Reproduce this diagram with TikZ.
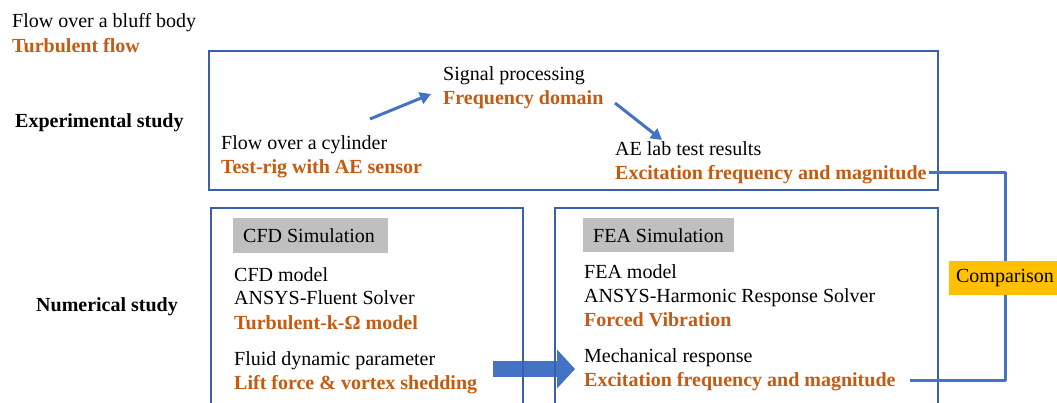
\documentclass[tikz,border=0pt]{standalone}
\usepackage{fontspec}
\setmainfont{Liberation Serif}
\usetikzlibrary{arrows.meta}
\definecolor{orng}{HTML}{C55A11}
\definecolor{lblue}{HTML}{4472C4}
\definecolor{dblue}{HTML}{3A5FAE}
\definecolor{gry}{HTML}{BFBFBF}
\definecolor{ylw}{HTML}{FFC000}
\tikzset{
  txt/.style={anchor=base west, inner sep=0pt, font=\fontsize{20}{24}\selectfont},
  otxt/.style={txt, text=orng, font=\fontsize{20}{24}\selectfont\bfseries},
  btxt/.style={txt, font=\fontsize{20}{24}\selectfont\bfseries},
  frame/.style={draw=dblue, line width=1.8pt, anchor=north west, inner sep=0pt},
  tag/.style={fill=gry, anchor=north west, inner sep=0pt},
  flow/.style={draw=lblue, line width=3pt, -{Triangle[width=12pt,length=11pt]}},
  link/.style={draw=lblue, line width=3pt},
  big/.style={draw=lblue, line width=16pt, -{Triangle[width=38pt,length=18pt]}},
}
\begin{document}
\begin{tikzpicture}[x=1pt,y=-1pt]
\useasboundingbox (0,0) rectangle (1057,403);
% left labels
\node[txt] (bluff) at (12,28) {Flow over a bluff body};
\node[otxt] (turb) at (12,52.5) {Turbulent flow};
\node[btxt] (exp) at (15,128) {Experimental study};
\node[btxt] (num) at (36,311) {Numerical study};
% big arrow (under the frames)
\coordinate (ba1) at (493,369);
\coordinate (ba2) at (575,369);
\draw[big] (ba1) -- (ba2);
% frames
\node[frame, minimum width=729pt, minimum height=139pt] (topbox) at (208,50) {};
\node[frame, minimum width=312pt, minimum height=220pt] (cfdbox) at (210,207) {};
\node[frame, minimum width=383pt, minimum height=220pt] (feabox) at (554,207) {};
% experimental texts
\node[txt] (cyl) at (221,150) {Flow over a cylinder};
\node[otxt] (rig) at (221,174) {Test-rig with AE sensor};
\node[txt] (sig) at (443,80.7) {Signal processing};
\node[otxt] (freq) at (443,105) {Frequency domain};
\node[txt] (ae) at (615,155.7) {AE lab test results};
\node[otxt] (topexc) at (615,180) {Excitation frequency and magnitude};
\coordinate (f1a) at (370,119);
\coordinate (f1b) at (431,94);
\coordinate (f2a) at (615,103);
\coordinate (f2b) at (662,140);
\draw[flow] (f1a) -- (f1b);
\draw[flow] (f2a) -- (f2b);
% CFD
\node[tag, minimum width=155pt, minimum height=35pt] (cfdtag) at (233,218) {};
\node[txt] (cfdt) at (243,242.7) {CFD Simulation};
\node[txt] (cfdm) at (234,281) {CFD model};
\node[txt] (flu) at (234,305) {ANSYS-Fluent Solver};
\node[otxt] (kom) at (234,329) {Turbulent-k-Ω model};
\node[txt] (fdp) at (234,365) {Fluid dynamic parameter};
\node[otxt] (lift) at (234,389) {Lift force \& vortex shedding};
% FEA
\node[tag, minimum width=151pt, minimum height=34pt] (featag) at (583,218) {};
\node[txt] (feat) at (593,242.7) {FEA Simulation};
\node[txt] (feam) at (584,278.5) {FEA model};
\node[txt] (harm) at (584,302.5) {ANSYS-Harmonic Response Solver};
\node[otxt] (forc) at (584,326.5) {Forced Vibration};
\node[txt] (mech) at (584,362.5) {Mechanical response};
\node[otxt] (botexc) at (584,386.5) {Excitation frequency and magnitude};
% comparison
\coordinate (cmpc) at (1005,278);
\coordinate (topend) at (929,173);
\coordinate (botend) at (910,380);
\draw[link, line join=round] (topend) -| (cmpc) |- (botend);
\node[fill=ylw, minimum width=112pt, minimum height=34pt, inner sep=0pt, font=\fontsize{20}{24}\selectfont] (cmp) at (1005,278) {Comparison};
\end{tikzpicture}
\end{document}
